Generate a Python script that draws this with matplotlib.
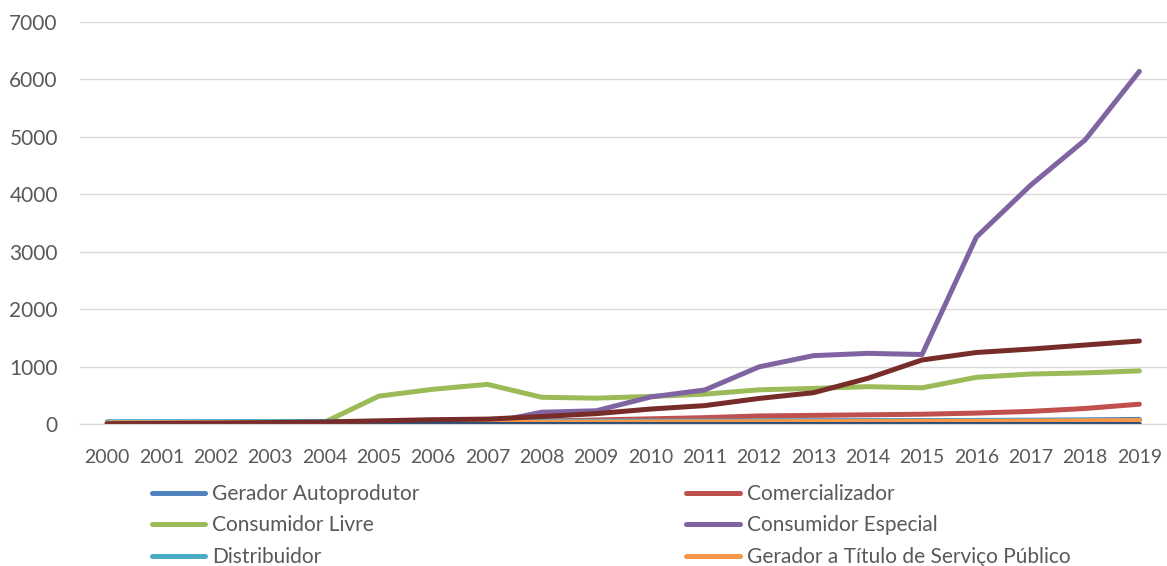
import matplotlib.pyplot as plt
import numpy as np

plt.rcParams['font.family'] = ['Lato', 'DejaVu Sans']

anos = [str(a) for a in range(2000, 2020)]

gerador_autoprodutor = [30, 32, 34, 36, 38, 40, 42, 44, 46, 48, 50, 52, 54, 56, 58, 60, 62, 66, 72, 80]
comercializador = [5, 10, 15, 20, 25, 30, 35, 40, 50, 70, 90, 110, 140, 150, 160, 170, 190, 220, 270, 345]
consumidor_livre = [10, 15, 20, 25, 30, 485, 605, 690, 465, 450, 480, 520, 595, 620, 650, 630, 813, 870, 890, 925]
consumidor_especial = [0, 0, 0, 0, 0, 5, 10, 15, 205, 230, 470, 592, 995, 1190, 1230, 1210, 3255, 4160, 4945, 6140]
distribuidor = [40, 40, 42, 42, 44, 44, 46, 46, 48, 48, 50, 50, 52, 52, 54, 54, 56, 56, 58, 60]
gerador_servico_publico = [20, 20, 22, 22, 24, 24, 26, 28, 30, 32, 34, 36, 38, 40, 42, 44, 46, 50, 55, 60]
serie_7 = [2, 2, 2, 2, 2, 2, 2, 2, 2, 2, 2, 2, 2, 2, 2, 2, 2, 2, 2, 2]
serie_8 = [5, 10, 15, 25, 35, 55, 75, 85, 130, 180, 260, 320, 445, 545, 795, 1115, 1245, 1305, 1375, 1445]

series = [
    ('Gerador Autoprodutor', gerador_autoprodutor, '#4F81BD'),
    ('Comercializador', comercializador, '#C0504D'),
    ('Consumidor Livre', consumidor_livre, '#9BBB59'),
    ('Consumidor Especial', consumidor_especial, '#8064A2'),
    ('Distribuidor', distribuidor, '#4BACC6'),
    ('Gerador a Título de Serviço Público', gerador_servico_publico, '#F79646'),
    ('_serie7', serie_7, '#2C4D75'),
    ('_serie8', serie_8, '#772C2A'),
]

fig = plt.figure(figsize=(11.67, 5.66), dpi=100)
ax = fig.add_axes([0.0686, 0.2509, 0.931, 0.7102])

x = np.arange(len(anos))
for nome, valores, cor in series:
    ax.plot(x, valores, color=cor, lw=3.6, label=nome, solid_capstyle='round', solid_joinstyle='round')

ax.set_xlim(-0.5, len(anos) - 0.5)
ax.set_ylim(0, 7000)
ax.set_yticks(range(0, 7001, 1000))
ax.yaxis.grid(True, color='#D9D9D9', lw=1)
ax.set_axisbelow(True)
for s in ['top', 'right', 'left']:
    ax.spines[s].set_visible(False)
ax.spines['bottom'].set_color('#D9D9D9')
ax.tick_params(axis='both', length=0, colors='#595959')
ax.tick_params(axis='y', labelsize=15, pad=16)
ax.set_xticks(x)
ax.set_xticklabels(anos, fontsize=14)
ax.tick_params(axis='x', pad=18)

# legenda em duas colunas, preenchida por linha
handles, labels = ax.get_legend_handles_labels()
ordem = [0, 2, 4, 1, 3, 5]
leg = fig.legend([handles[i] for i in ordem], [labels[i] for i in ordem], ncol=2,
                 loc='upper left', bbox_to_anchor=(0.1302, 0.145), borderaxespad=0, borderpad=0,
                 frameon=False, handlelength=2.55, columnspacing=12.8, labelspacing=0.55,
                 handletextpad=0.35, prop={'size': 15})
for t in leg.get_texts():
    t.set_color('#595959')

fig.savefig('out.png', dpi=100)
